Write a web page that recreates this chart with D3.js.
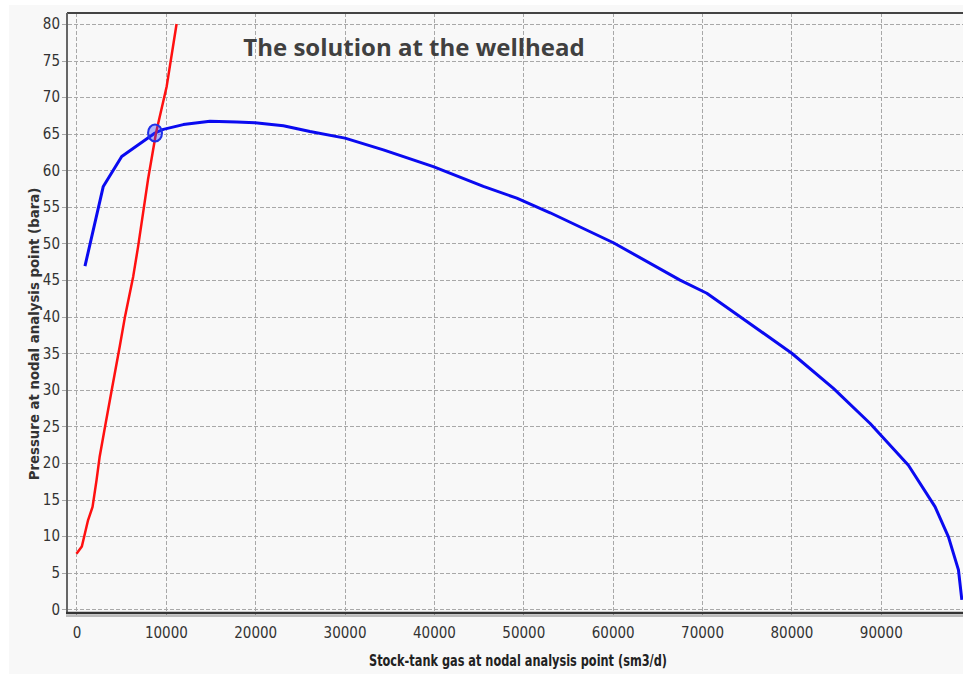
<!DOCTYPE html>
<html>
<head>
<meta charset="utf-8">
<script src="https://cdn.jsdelivr.net/npm/d3@7"></script>
<style>
  html, body { margin: 0; padding: 0; background: #fff; }
</style>
</head>
<body>
<div id="wrapper"></div>
<script>
// data
const xTicks = [0, 10000, 20000, 30000, 40000, 50000, 60000, 70000, 80000, 90000];
const yTicks = [0, 5, 10, 15, 20, 25, 30, 35, 40, 45, 50, 55, 60, 65, 70, 75, 80];

// red curve (gas rate, pressure)
const redGas = [0, 600, 950, 1300, 1800, 2250, 2600, 3200, 3950, 4850, 5400, 6350, 6900, 8000, 8900, 10100, 11200];
const redPressure = [7.6, 8.6, 10.4, 12.2, 14.0, 17.7, 20.9, 25.0, 30.0, 36.0, 39.8, 45.5, 49.6, 58.7, 65.1, 71.5, 80.0];

// blue curve (gas rate, pressure)
const blueGas = [950, 3000, 5060, 8790, 9720, 11950, 14940, 17930, 19980, 23150, 26130, 30050, 34340, 39930,
  45530, 49270, 53000, 60080, 67540, 70530, 74260, 80040, 84700, 88810, 93090, 96080, 97570, 98690, 99070];
const bluePressure = [46.9, 57.8, 61.9, 65.1, 65.6, 66.25, 66.7, 66.6, 66.5, 66.1, 65.3, 64.4, 62.8, 60.5,
  57.8, 56.2, 54.2, 50.1, 45.0, 43.2, 40.0, 35.0, 30.2, 25.4, 19.7, 14.0, 9.9, 5.4, 1.3];

// operating point
const solutionGas = 8790;
const solutionPressure = 65.1;

const titleText = "The solution at the wellhead";
const xLabelText = "Stock-tank gas at nodal analysis point (sm3/d)";
const yLabelText = "Pressure at nodal analysis point (bara)";

const width = 963;
const height = 674;
const dims = { left: 67, top: 13, right: 963, bottom: 613 };

const svg = d3.select('#wrapper')
  .append('svg')
  .attr('width', width)
  .attr('height', height)
  .style('display', 'block');

// light panel
svg.append('rect')
  .attr('x', 9).attr('y', 5)
  .attr('width', width - 9).attr('height', height - 5)
  .attr('fill', '#f8f8f8');

const xScale = d3.scaleLinear()
  .domain([-1060, 99200])
  .range([dims.left, dims.right]);
const yScale = d3.scaleLinear()
  .domain([-0.5, 81.5])
  .range([dims.bottom, dims.top]);

const tickFont = '"DejaVu Sans Condensed", "DejaVu Sans", sans-serif';

// grid (dashed, running a little past the axes like tick marks)
const grid = svg.append('g');
grid.selectAll('.hgrid')
  .data(yTicks)
  .join('line')
  .attr('x1', dims.left - 5)
  .attr('x2', dims.right)
  .attr('y1', d => Math.round(yScale(d)) + 0.5)
  .attr('y2', d => Math.round(yScale(d)) + 0.5)
  .attr('stroke', '#a8a8a8')
  .attr('stroke-width', 1)
  .attr('stroke-dasharray', '4,2');
grid.selectAll('.vgrid')
  .data(xTicks)
  .join('line')
  .attr('x1', d => Math.round(xScale(d)) + 0.5)
  .attr('x2', d => Math.round(xScale(d)) + 0.5)
  .attr('y1', dims.top)
  .attr('y2', dims.bottom + 6)
  .attr('stroke', '#a8a8a8')
  .attr('stroke-width', 1)
  .attr('stroke-dasharray', '4,2');

// axes
const xAxis = svg.append('g')
  .attr('transform', `translate(0, ${dims.bottom})`)
  .call(d3.axisBottom(xScale).tickValues(xTicks).tickSize(0).tickPadding(14).tickFormat(d3.format('d')));
xAxis.select('.domain').remove();
xAxis.selectAll('text')
  .style('font-family', tickFont)
  .style('font-stretch', 'condensed')
  .style('font-size', '15px')
  .attr('fill', '#333');

const yAxis = svg.append('g')
  .attr('transform', `translate(${dims.left}, 0)`)
  .call(d3.axisLeft(yScale).tickValues(yTicks).tickSize(0).tickPadding(7));
yAxis.select('.domain').remove();
yAxis.selectAll('text')
  .style('font-family', tickFont)
  .style('font-stretch', 'condensed')
  .style('font-size', '15px')
  .attr('fill', '#333');

// frame lines
svg.append('line')
  .attr('x1', dims.left).attr('x2', dims.right)
  .attr('y1', dims.top).attr('y2', dims.top)
  .attr('stroke', '#444').attr('stroke-width', 2);
svg.append('line')
  .attr('x1', dims.left).attr('x2', dims.left)
  .attr('y1', dims.top).attr('y2', dims.bottom)
  .attr('stroke', '#666').attr('stroke-width', 2);
svg.append('line')
  .attr('x1', dims.left - 1).attr('x2', dims.right)
  .attr('y1', dims.bottom + 3).attr('y2', dims.bottom + 3)
  .attr('stroke', '#bbb').attr('stroke-width', 2);
svg.append('line')
  .attr('x1', dims.left - 1).attr('x2', dims.right)
  .attr('y1', dims.bottom).attr('y2', dims.bottom)
  .attr('stroke', '#333').attr('stroke-width', 2.5);

// curves
svg.append('clipPath').attr('id', 'plotClip')
  .append('rect')
  .attr('x', dims.left).attr('y', dims.top)
  .attr('width', dims.right - dims.left).attr('height', dims.bottom - dims.top);

const plot = svg.append('g').attr('clip-path', 'url(#plotClip)');
const line = d3.line()
  .x(d => xScale(d[0]))
  .y(d => yScale(d[1]));

plot.append('path')
  .datum(d3.zip(blueGas, bluePressure))
  .attr('d', line)
  .attr('fill', 'none')
  .attr('stroke', '#0a0af0')
  .attr('stroke-width', 3)
  .attr('stroke-linejoin', 'round');

plot.append('path')
  .datum(d3.zip(redGas, redPressure))
  .attr('d', line)
  .attr('fill', 'none')
  .attr('stroke', '#ff1010')
  .attr('stroke-width', 2.5)
  .attr('stroke-linejoin', 'round');

plot.append('ellipse')
  .attr('cx', xScale(solutionGas))
  .attr('cy', yScale(solutionPressure))
  .attr('rx', 7)
  .attr('ry', 8.5)
  .attr('fill', 'rgba(40,60,255,0.35)')
  .attr('stroke', '#2030e8')
  .attr('stroke-width', 2);

// title and axis labels
svg.append('text')
  .attr('x', 414)
  .attr('y', 56)
  .attr('text-anchor', 'middle')
  .style('font-family', '"Open Sans", sans-serif')
  .style('font-weight', 'bold')
  .style('font-size', '24px')
  .attr('fill', '#404040')
  .text(titleText);

svg.append('text')
  .attr('x', 518)
  .attr('y', 666)
  .attr('text-anchor', 'middle')
  .attr('textLength', 298)
  .attr('lengthAdjust', 'spacingAndGlyphs')
  .style('font-family', tickFont)
  .style('font-stretch', 'condensed')
  .style('font-weight', 'bold')
  .style('font-size', '15px')
  .attr('fill', '#222')
  .text(xLabelText);

svg.append('text')
  .attr('transform', 'translate(39, 334) rotate(-90)')
  .attr('text-anchor', 'middle')
  .style('font-family', '"DejaVu Sans", sans-serif')
  .style('font-weight', 'bold')
  .style('font-size', '13.3px')
  .attr('fill', '#333')
  .text(yLabelText);
</script>
</body>
</html>
